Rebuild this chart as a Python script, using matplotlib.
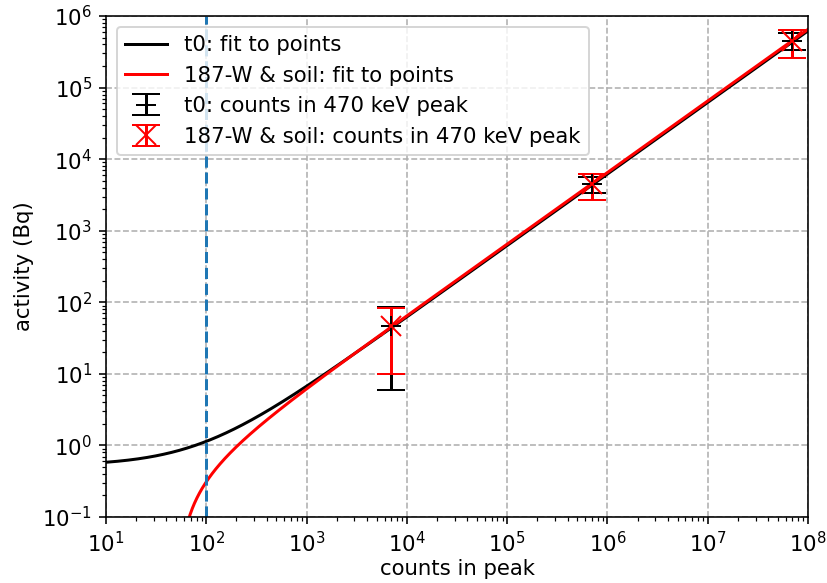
import matplotlib
matplotlib.use("Agg")
import matplotlib.pyplot as plt
import numpy as np

# measured points (counts in 470 keV peak -> activity)
counts = [7e3, 7e5, 7e7]
act_t0 = [46, 4500, 4.5e5]
err_t0 = [40, 1100, 1.2e5]
act_soil = [46, 4500, 4.5e5]
err_soil = [36, 1800, 1.9e5]

# linear fit parameters: activity = slope * counts + offset
fit_t0 = (0.0062, 0.52)
fit_soil = (0.0065, -0.34)

threshold = 100

plt.rcParams['font.size'] = 10.6

fig = plt.figure(figsize=(827 / 144, 583 / 144), dpi=144)
ax = fig.add_axes([106 / 827, 1 - 517 / 583, 702 / 827, 501 / 583])

ax.errorbar(counts, act_t0, yerr=err_t0, fmt='+', color='black', capsize=7,
            markersize=10, label='t0: counts in 470 keV peak')
ax.errorbar(counts, act_soil, yerr=err_soil, fmt='x', color='red', capsize=7,
            markersize=10, label='187-W & soil: counts in 470 keV peak')

x = np.logspace(1, 8, 2000)
ax.plot(x, fit_t0[0] * x + fit_t0[1], color='black', label='t0: fit to points')
y_soil = fit_soil[0] * x + fit_soil[1]
y_soil[y_soil <= 0] = np.nan
ax.plot(x, y_soil, color='red', label='187-W & soil: fit to points')

ax.axvline(threshold, color='tab:blue', ls='--')

ax.set_xscale('log')
ax.set_yscale('log')
ax.set_xlim(10, 1e8)
ax.set_ylim(0.1, 1e6)
ax.grid(ls='--')
ax.set_xlabel('counts in peak', labelpad=1.5)
ax.set_ylabel('activity (Bq)')
ax.legend(loc='upper left')

fig.savefig('out.png', dpi=144)
